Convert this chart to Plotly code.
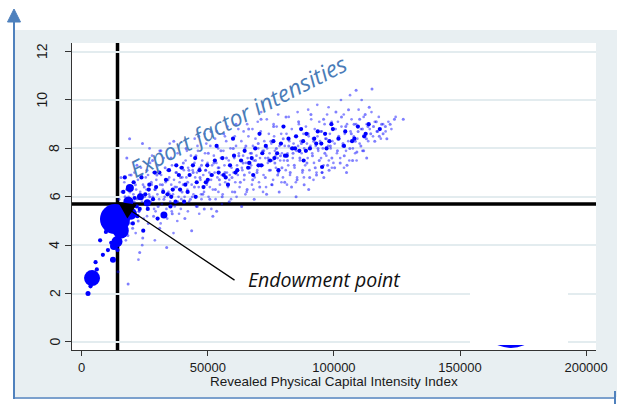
import plotly.graph_objects as go

# ---- data: (index in thousands, export factor intensity) ----
# light cloud of small observations
small_pts = [
    (14.8, 5.9), (15.6, 6.8), (16.3, 4.9), (14.4, 2.9), (17.2, 6.0), (16.8, 5.4), (17.9, 7.6), (18.3, 4.4),
    (19.1, 6.2), (18.7, 5.6), (19.6, 6.9), (18.4, 2.4), (20.2, 4.7), (20.8, 5.8), (21.3, 6.5), (21.9, 7.3),
    (22.4, 5.0), (19.0, 8.4), (23.1, 6.1), (23.6, 6.9), (22.7, 5.4), (23.0, 3.7), (24.2, 4.3), (24.8, 6.4),
    (25.3, 5.7), (25.9, 7.1), (24.1, 8.2), (26.4, 4.9), (27.0, 6.0), (27.6, 6.6), (28.1, 7.5), (28.5, 5.2),
    (29.2, 6.3), (29.8, 6.9), (30.3, 5.6), (30.9, 4.7), (31.4, 7.9), (32.0, 6.5), (32.6, 5.9), (33.1, 7.2),
    (33.7, 3.9), (34.2, 6.7), (34.8, 6.1), (35.4, 7.6), (35.9, 5.3), (36.5, 8.3), (37.0, 6.4), (37.6, 7.0),
    (38.1, 5.8), (38.7, 6.9), (39.2, 6.8), (39.8, 6.2), (40.3, 7.4), (40.9, 5.1), (41.4, 8.0), (42.0, 6.6),
    (42.5, 7.1), (43.1, 5.9), (43.6, 4.6), (44.2, 7.0), (44.7, 6.4), (45.3, 7.7), (45.8, 5.6), (46.4, 8.5),
    (46.9, 6.8), (47.5, 7.3), (48.0, 6.1), (48.6, 5.5), (49.1, 7.1), (49.7, 6.6), (50.2, 7.8), (50.8, 5.9),
    (51.3, 8.7), (51.9, 6.9), (52.4, 7.4), (53.0, 6.3), (53.5, 5.4), (54.1, 7.2), (54.6, 6.7), (55.2, 7.9),
    (55.7, 6.0), (56.3, 8.6), (56.8, 7.0), (57.4, 7.6), (57.9, 6.5), (58.5, 5.8), (59.0, 7.3), (59.6, 6.8),
    (60.1, 8.0), (60.7, 6.2), (61.2, 9.0), (61.8, 7.1), (62.3, 7.7), (62.9, 6.6), (63.4, 5.6), (64.0, 7.4),
    (64.5, 6.9), (65.1, 8.1), (65.6, 6.3), (66.2, 8.8), (66.7, 7.2), (67.3, 7.8), (67.8, 6.7), (68.4, 5.9),
    (68.9, 7.5), (69.5, 7.0), (70.0, 8.2), (70.6, 6.4), (71.1, 9.2), (71.7, 7.3), (72.2, 7.9), (72.8, 6.8),
    (73.3, 6.1), (73.9, 7.6), (74.4, 7.1), (75.0, 8.3), (75.5, 6.5), (76.1, 8.9), (76.6, 7.4), (77.2, 8.0),
    (77.7, 6.9), (78.3, 6.2), (78.8, 7.7), (79.4, 7.2), (79.9, 8.4), (80.5, 6.6), (81.0, 9.3), (81.6, 7.5),
    (82.1, 8.1), (82.7, 7.0), (83.2, 6.4), (83.8, 7.8), (84.3, 7.3), (84.9, 8.5), (85.4, 6.7), (86.0, 9.1),
    (86.5, 7.6), (87.1, 8.2), (87.6, 7.1), (88.2, 6.5), (88.7, 7.9), (89.3, 7.4), (89.8, 8.6), (90.4, 6.8),
    (90.9, 9.4), (91.5, 7.7), (92.0, 8.3), (92.6, 7.2), (93.1, 6.9), (93.7, 8.0), (94.2, 7.5), (94.8, 8.7),
    (95.3, 7.0), (95.9, 9.2), (96.4, 7.8), (97.0, 8.4), (97.5, 7.3), (98.1, 7.1), (98.6, 8.1), (99.2, 7.6),
    (99.7, 8.8), (100.3, 7.2), (100.8, 9.5), (101.4, 7.9), (101.9, 8.5), (102.5, 7.4), (103.0, 9.3), (103.6, 8.2),
    (104.1, 7.7), (104.7, 8.9), (105.2, 7.3), (105.8, 9.6), (106.3, 8.0), (106.9, 8.6), (107.4, 7.5), (108.0, 9.0),
    (108.5, 8.3), (109.1, 7.85), (109.6, 8.7), (110.2, 9.2), (110.7, 8.1), (111.3, 8.8), (111.8, 7.9), (112.4, 9.4),
    (112.9, 8.4), (113.5, 8.9), (114.0, 9.7), (114.6, 8.6), (115.1, 10.45), (115.7, 8.9), (116.2, 8.3), (116.8, 9.1),
    (117.3, 8.7), (118.0, 8.5), (118.9, 9.0), (119.5, 8.6), (120.4, 8.9), (121.0, 8.4), (122.3, 9.0), (124.0, 9.2),
    (127.5, 9.2), (108.8, 10.4), (113.0, 7.6), (105.0, 7.0), (96.0, 6.8), (90.0, 6.3), (85.0, 6.0), (52.0, 5.2),
]

# second layer of the dense band
band_pts = [
    (15.3, 5.5), (15.9, 6.2), (16.4, 5.1), (16.9, 6.6), (17.3, 5.8), (17.7, 6.3), (18.0, 5.3), (18.6, 6.0),
    (18.9, 6.9), (19.4, 5.7), (19.8, 6.4), (20.1, 5.2), (20.5, 6.1), (20.9, 7.0), (21.2, 5.6), (21.6, 6.3),
    (22.0, 5.9), (22.3, 6.7), (22.8, 5.4), (23.2, 6.2), (23.5, 7.2), (23.9, 5.8), (24.3, 6.5), (24.6, 5.1),
    (25.0, 6.0), (25.4, 6.8), (16.1, 4.6), (17.5, 4.2), (19.2, 4.9), (21.4, 4.5), (22.5, 3.4), (24.0, 4.0),
    (25.7, 6.3), (26.0, 5.6), (26.3, 6.9), (26.7, 6.1), (27.1, 7.4), (27.4, 5.8), (27.8, 6.5), (28.2, 6.0),
    (28.4, 7.0), (28.9, 6.3), (29.3, 5.4), (29.6, 6.7), (30.0, 6.1), (30.4, 7.3), (30.7, 5.9), (31.1, 6.5),
    (31.5, 6.9), (31.8, 5.7), (32.2, 6.3), (32.5, 7.6), (32.9, 6.0), (33.3, 6.6), (33.6, 5.5), (34.0, 7.1),
    (34.4, 6.2), (34.7, 6.8), (35.1, 5.8), (35.5, 6.5), (35.8, 7.3), (36.2, 6.1), (36.6, 6.7), (36.9, 5.6),
    (37.3, 7.0), (37.7, 6.4), (38.0, 7.8), (38.4, 6.0), (38.8, 6.6), (39.1, 7.2), (39.5, 5.9), (39.9, 6.8),
    (26.9, 8.0), (29.0, 4.2), (31.3, 4.9), (33.9, 5.1), (36.4, 4.5), (38.6, 5.3), (27.9, 7.7), (30.9, 7.9),
    (34.9, 8.2), (37.9, 5.0), (25.9, 5.2), (28.7, 5.5), (32.7, 5.2), (35.7, 5.4), (39.3, 5.5),
    (40.2, 6.5), (40.5, 7.1), (40.8, 6.0), (41.2, 7.5), (41.5, 6.8), (41.9, 6.3), (42.2, 7.2), (42.6, 5.8),
    (42.9, 6.9), (43.3, 7.7), (43.6, 6.5), (44.0, 7.1), (44.3, 6.1), (44.7, 7.4), (45.0, 6.8), (45.4, 5.6),
    (45.7, 7.0), (46.1, 7.9), (46.4, 6.4), (46.8, 7.2), (47.1, 6.7), (47.5, 5.9), (47.8, 7.5), (48.2, 6.9),
    (48.5, 6.2), (48.9, 7.8), (49.2, 7.1), (49.6, 6.5), (49.9, 7.4), (50.3, 6.0), (50.6, 7.0), (51.0, 8.1),
    (51.3, 6.7), (51.7, 7.3), (52.0, 6.3), (52.4, 7.7), (52.7, 7.0), (53.1, 5.9), (53.4, 7.4), (53.8, 6.8),
    (54.1, 8.0), (54.5, 7.2), (54.8, 6.5), (55.2, 7.6), (55.5, 6.9), (55.9, 6.1), (56.2, 7.9), (56.6, 7.3),
    (56.9, 6.6), (57.3, 8.3), (57.6, 7.0), (58.0, 6.4), (58.3, 7.5), (58.7, 6.9), (59.0, 8.0), (59.4, 7.2),
    (59.7, 6.2), (44.8, 8.4), (48.7, 8.6), (53.6, 8.7), (57.8, 8.9), (42.1, 5.4), (46.6, 5.3), (51.4, 5.5),
    (55.6, 5.7), (59.2, 5.9), (43.8, 6.0), (47.3, 6.1), (50.8, 6.4), (54.2, 6.2), (58.5, 6.7), (41.7, 7.9),
    (45.9, 8.1), (49.4, 8.2), (52.9, 8.4), (56.8, 8.5),
    (60.2, 7.0), (60.5, 7.6), (60.9, 6.6), (61.2, 8.1), (61.6, 7.3), (61.9, 6.9), (62.3, 7.8), (62.6, 6.4),
    (63.0, 7.5), (63.3, 8.3), (63.7, 7.1), (64.0, 7.7), (64.4, 6.7), (64.7, 8.0), (65.1, 7.4), (65.4, 6.2),
    (65.8, 7.6), (66.1, 8.5), (66.5, 7.0), (66.8, 7.8), (67.2, 7.3), (67.5, 6.5), (67.9, 8.1), (68.2, 7.5),
    (68.6, 6.8), (68.9, 8.4), (69.3, 7.7), (69.6, 7.1), (70.0, 8.0), (70.3, 6.6), (70.7, 7.6), (71.0, 8.7),
    (71.4, 7.3), (71.7, 7.9), (72.1, 6.9), (72.4, 8.3), (72.8, 7.6), (73.1, 6.4), (73.5, 8.0), (73.8, 7.4),
    (74.2, 8.6), (74.5, 7.8), (74.9, 7.1), (75.2, 8.2), (75.6, 7.5), (75.9, 6.7), (76.3, 8.5), (76.6, 7.9),
    (77.0, 7.2), (77.3, 8.9), (77.7, 7.6), (78.0, 7.0), (78.4, 8.1), (78.7, 7.5), (79.1, 8.6), (79.4, 7.8),
    (79.8, 6.8), (62.1, 8.8), (65.6, 9.0), (69.8, 9.1), (73.4, 9.2), (77.9, 9.4), (61.4, 6.0), (64.9, 6.1),
    (68.1, 6.3), (71.9, 6.2), (75.3, 6.5), (79.2, 6.6), (63.5, 7.2), (66.9, 7.4), (70.5, 7.3), (74.0, 7.5),
    (76.9, 7.7), (60.7, 8.5), (64.2, 8.7), (67.7, 8.8), (71.2, 9.5), (76.1, 9.0),
    (80.2, 7.5), (80.5, 8.1), (80.9, 7.1), (81.2, 8.6), (81.6, 7.8), (81.9, 7.3), (82.3, 8.3), (82.6, 6.9),
    (83.0, 8.0), (83.3, 8.8), (83.7, 7.6), (84.0, 8.2), (84.4, 7.2), (84.7, 8.5), (85.1, 7.9), (85.4, 6.8),
    (85.8, 8.1), (86.1, 9.0), (86.5, 7.5), (86.8, 8.3), (87.2, 7.8), (87.5, 7.0), (87.9, 8.6), (88.2, 8.0),
    (88.6, 7.3), (88.9, 8.9), (89.3, 8.2), (89.6, 7.6), (90.0, 8.5), (90.3, 7.1), (90.7, 8.1), (91.0, 9.2),
    (91.4, 7.8), (91.7, 8.4), (92.1, 7.4), (92.4, 8.8), (92.8, 8.1), (93.1, 7.0), (93.5, 8.5), (93.8, 7.9),
    (94.2, 9.1), (94.5, 8.3), (94.9, 7.6), (95.2, 8.7), (95.6, 8.0), (95.9, 7.3), (96.3, 9.0), (96.6, 8.4),
    (97.0, 7.7), (97.3, 9.4), (97.7, 8.1), (98.0, 7.5), (98.4, 8.6), (98.7, 8.0), (99.1, 9.1), (99.4, 8.3),
    (99.8, 7.4), (82.1, 9.3), (85.6, 9.5), (89.8, 9.6), (93.4, 9.8), (97.9, 9.7), (81.4, 6.5), (84.9, 6.6),
    (88.1, 6.8), (91.9, 6.7), (95.3, 7.0), (99.2, 7.2),
    (100.3, 8.2), (100.7, 8.8), (101.2, 7.8), (101.6, 9.1), (102.1, 8.4), (102.5, 7.6), (103.0, 8.9), (103.4, 8.1),
    (103.9, 9.4), (104.3, 8.6), (104.8, 7.9), (105.2, 9.0), (105.7, 8.3), (106.1, 7.5), (106.6, 8.7), (107.0, 9.2),
    (107.5, 8.0), (107.9, 8.5), (108.4, 7.8), (108.8, 9.0), (109.3, 8.4), (109.8, 9.6), (110.2, 8.2), (110.7, 8.8),
    (111.3, 7.9), (111.8, 9.3), (112.4, 8.6), (113.0, 9.0), (113.6, 8.3), (114.2, 8.8), (114.9, 9.5), (115.5, 8.5),
    (116.2, 9.1), (117.0, 8.7), (117.8, 9.3), (118.6, 8.4), (119.5, 9.0), (120.5, 8.7), (121.6, 9.1), (122.8, 8.8),
    (124.5, 9.3), (102.8, 10.0), (106.4, 10.2), (111.0, 10.0), (104.0, 7.2), (109.0, 7.5),
]

# medium-weight observations
mid_pts = [
    (16.5, 6.2), (18.2, 5.9), (20.6, 6.6), (21.8, 5.6), (23.7, 6.8), (25.2, 6.1), (26.8, 6.5), (28.3, 5.9),
    (29.5, 6.4), (30.8, 7.0), (32.3, 6.2), (33.4, 6.7), (34.6, 7.1), (36.1, 6.3), (37.2, 5.8), (38.5, 6.9),
    (39.7, 7.2), (41.1, 6.5), (42.8, 6.9), (44.1, 7.3), (45.6, 6.6), (46.7, 7.1), (48.3, 6.4), (49.8, 7.3),
    (51.5, 6.9), (52.8, 7.5), (54.3, 7.0), (55.8, 7.6), (57.1, 6.8), (58.8, 7.3), (60.4, 7.7), (61.7, 7.1),
    (63.2, 7.5), (64.6, 7.9), (66.0, 7.2), (67.4, 7.6), (68.8, 8.0), (70.1, 7.3), (71.6, 7.8), (73.0, 8.1),
    (74.7, 7.5), (76.0, 8.3), (77.5, 7.8), (79.0, 8.2), (80.6, 7.7), (82.0, 8.4), (83.5, 8.0), (85.0, 8.5),
    (86.3, 7.9), (87.8, 8.3), (89.1, 8.6), (90.5, 8.0), (92.2, 8.4), (93.6, 8.7), (95.0, 8.2), (96.5, 8.6),
    (98.2, 8.3), (99.6, 8.8), (101.8, 8.4), (104.5, 8.7), (107.2, 8.3), (109.5, 8.9), (112.0, 8.5), (95.3, 7.23),
    (20.3, 4.9), (22.1, 5.2), (24.4, 4.6), (26.2, 5.5), (30.1, 5.1), (35.2, 5.6), (40.6, 5.8), (45.2, 6.0),
    (6.0, 3.0), (8.4, 3.6), (10.4, 3.8), (11.7, 4.1), (9.6, 4.55), (7.3, 4.2), (5.5, 3.3), (3.5, 2.3),
    (14.2, 3.8), (19.3, 5.6), (21.0, 5.95), (23.0, 5.5), (17.1, 6.8), (26.6, 6.3), (34.0, 6.1), (39.0, 6.3),
    (49.2, 6.6), (56.3, 6.9), (61.0, 7.0), (66.4, 7.4), (71.2, 7.3), (76.4, 7.6), (81.3, 7.7), (84.6, 8.0),
    (88.9, 7.9), (93.0, 8.2), (97.1, 8.0), (87.0, 8.8), (99.0, 9.0), (104.0, 8.1), (108.1, 8.4), (112.6, 8.6),
    (113.8, 9.0), (118.2, 8.8), (60.0, 8.4), (70.5, 8.6), (80.0, 8.9), (53.5, 8.1), (45.0, 7.6), (37.5, 7.3),
    (29.0, 7.0), (35.5, 6.0), (42.0, 6.2), (50.0, 6.7), (58.0, 6.5), (68.0, 6.9), (78.0, 7.1), (88.0, 7.5),
]

# heavy observations near the endowment point
big_x = [13.2, 17.0, 15.5, 14.0, 11.5, 19.5, 4.1, 2.5, 19.1, 23.3, 12.8, 12.4, 32.6, 18.5, 26.0]
big_y = [5.08, 5.35, 4.6, 4.15, 4.8, 5.3, 2.64, 2.0, 6.36, 6.0, 3.97, 3.4, 5.25, 5.8, 5.75]
big_size = [30, 16, 16, 11, 12, 12, 16, 5, 8, 7, 8, 6, 7, 10, 7]

# single heavy observation far to the right
far_x = [170.2]
far_y = [1.16]
far_size = [68]

# endowment point
endow_x = 14200
endow_y = 5.7

x_ticks = [0, 50000, 100000, 150000, 200000]
y_ticks = [0, 2, 4, 6, 8, 10, 12]

X_TITLE = "Revealed Physical Capital Intensity Index"

# ---- geometry of the plotting window (pixels) ----
WIDTH, HEIGHT = 617, 405
L, R, T, B = 72, 596, 43, 350
PW, PH = R - L, B - T


def fx(p):
    return (p - L) / PW


def fy(p):
    return (B - p) / PH


def xs(pts):
    return [p[0] * 1000 for p in pts]


def ys(pts):
    return [p[1] for p in pts]


BLUE = "#0000ff"
FRAME_BLUE = "#4f81bd"
PANEL_GREY = "#e8eff2"
GRID = "#e3ecef"

fig = go.Figure()

fig.add_trace(go.Scatter(x=xs(small_pts), y=ys(small_pts), mode="markers",
                         marker=dict(color=BLUE, size=3.0, opacity=0.5, line=dict(width=0)),
                         hoverinfo="skip", showlegend=False))
fig.add_trace(go.Scatter(x=xs(band_pts), y=ys(band_pts), mode="markers",
                         marker=dict(color=BLUE, size=2.7, opacity=0.45, line=dict(width=0)),
                         hoverinfo="skip", showlegend=False))
fig.add_trace(go.Scatter(x=xs(mid_pts), y=ys(mid_pts), mode="markers",
                         marker=dict(color=BLUE, size=4.2, opacity=1, line=dict(width=0)),
                         hoverinfo="skip", showlegend=False))
fig.add_trace(go.Scatter(x=[v * 1000 for v in big_x], y=big_y, mode="markers",
                         marker=dict(color=BLUE, size=big_size, opacity=1, line=dict(width=0)),
                         hoverinfo="skip", showlegend=False))
fig.add_trace(go.Scatter(x=[v * 1000 for v in far_x], y=far_y, mode="markers",
                         marker=dict(color=BLUE, size=far_size, opacity=1, line=dict(width=0)),
                         hoverinfo="skip", showlegend=False))

shapes = [
    # grey panel behind the graph
    dict(type="rect", xref="paper", yref="paper", layer="below",
         x0=fx(15), x1=fx(617), y0=fy(397), y1=fy(30),
         fillcolor=PANEL_GREY, line=dict(width=0)),
    # white plotting area
    dict(type="rect", xref="paper", yref="paper", layer="below",
         x0=0, x1=1, y0=0, y1=1, fillcolor="white", line=dict(width=0)),
    # endowment cross-hair
    dict(type="line", xref="x", yref="paper", layer="between",
         x0=endow_x, x1=endow_x, y0=0, y1=1, line=dict(color="black", width=3.5)),
    dict(type="line", xref="paper", yref="y", layer="between",
         x0=0, x1=1, y0=endow_y, y1=endow_y, line=dict(color="black", width=3.5)),
    # blank patch in the lower right corner
    dict(type="rect", xref="paper", yref="paper", layer="above",
         x0=fx(470), x1=fx(568), y0=fy(345), y1=fy(262),
         fillcolor="white", line=dict(width=0)),
    # outer frame arrows
    dict(type="line", xref="paper", yref="paper", x0=fx(14), x1=fx(14), y0=fy(399), y1=fy(20),
         line=dict(color=FRAME_BLUE, width=2)),
    dict(type="path", xref="paper", yref="paper",
         path=f"M {fx(14)},{fy(9)} L {fx(7.5)},{fy(22)} L {fx(20.5)},{fy(22)} Z",
         fillcolor=FRAME_BLUE, line=dict(color=FRAME_BLUE, width=1)),
    dict(type="line", xref="paper", yref="paper", x0=fx(13), x1=fx(615), y0=fy(398), y1=fy(398),
         line=dict(color=FRAME_BLUE, width=1.5)),
    dict(type="line", xref="paper", yref="paper", x0=fx(615), x1=fx(615), y0=fy(391), y1=fy(404),
         line=dict(color=FRAME_BLUE, width=2)),
]

annotations = []
# y tick labels, drawn vertically
for v in y_ticks:
    xc = 41.5 if v >= 10 else 54.5
    annotations.append(dict(x=fx(xc), xref="paper", y=v, yref="y", text=str(v),
                            textangle=-90, showarrow=False, xanchor="center", yanchor="middle",
                            font=dict(family="Liberation Sans, Arial", size=14, color="#1a1a1a")))

annotations += [
    dict(x=fx(334), y=fy(381), xref="paper", yref="paper", text=X_TITLE,
         showarrow=False, xanchor="center", yanchor="middle",
         font=dict(family="Liberation Sans, Arial", size=13.5, color="#1a1a1a")),
    dict(x=endow_x + 200, y=endow_y + 0.08, xref="x", yref="y", text="",
         showarrow=True, ax=118, ay=79, arrowhead=2, arrowsize=2.6, arrowwidth=1.3,
         arrowcolor="black"),
    dict(x=fx(324), y=fy(279), xref="paper", yref="paper", text="Endowment point",
         showarrow=False, xanchor="center", yanchor="middle",
         font=dict(family="Open Sans", size=19.5, color="#111111", style="italic")),
    dict(x=fx(238), y=fy(116), xref="paper", yref="paper", text="Export factor intensities",
         showarrow=False, xanchor="center", yanchor="middle", textangle=-27,
         font=dict(family="Open Sans", size=23, color="#4a7cb8", style="italic")),
]

fig.update_layout(
    width=WIDTH, height=HEIGHT,
    margin=dict(l=L, r=WIDTH - R, t=T, b=HEIGHT - B, pad=0),
    paper_bgcolor="white", plot_bgcolor="white",
    shapes=shapes, annotations=annotations,
    font=dict(family="Liberation Sans, Arial", color="#1a1a1a"),
)

fig.update_xaxes(
    range=[-3846, 203920], tickvals=x_ticks, ticktext=[str(v) for v in x_ticks],
    ticks="outside", ticklen=5, tickwidth=1, tickcolor="#333333",
    showline=True, linecolor="#333333", linewidth=1,
    showgrid=False, zeroline=False,
    tickfont=dict(size=13, color="#1a1a1a"),
    automargin=False,
)
fig.update_yaxes(
    range=[-0.331, 12.355], tickvals=y_ticks, showticklabels=False,
    ticks="outside", ticklen=6, tickwidth=1, tickcolor="#333333",
    showline=True, linecolor="#333333", linewidth=1,
    showgrid=True, gridcolor=GRID, gridwidth=1.5, zeroline=False,
    automargin=False,
)

fig.write_html("out.html")
